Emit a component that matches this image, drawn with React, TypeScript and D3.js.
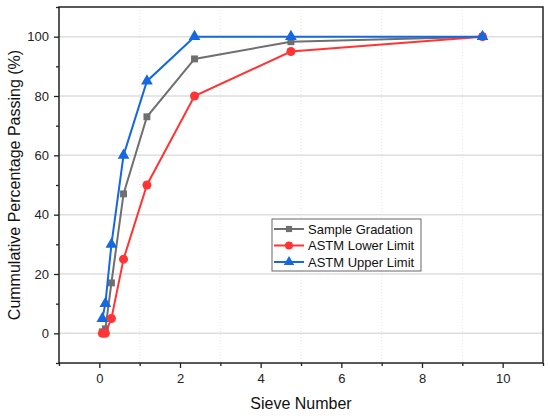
import React, { useEffect, useRef } from 'react';
import * as d3 from 'd3';

const sieves = [0.075, 0.15, 0.3, 0.6, 1.18, 2.36, 4.75, 9.5];
const sampleGradation = [0.5, 1.5, 17, 47, 73, 92.5, 98.3, 100];
const astmLower = [0, 0, 5, 25, 50, 80, 95, 100];
const astmUpper = [5, 10, 30, 60, 85, 100, 100, 100];
const xTicks = [0, 2, 4, 6, 8, 10];
const yTicks = [0, 20, 40, 60, 80, 100];

const series = [
  { name: 'Sample Gradation', values: sampleGradation, color: '#6f6f6f', symbol: d3.symbolSquare, size: 48 },
  { name: 'ASTM Lower Limit', values: astmLower, color: '#ff3535', symbol: d3.symbolCircle, size: 64 },
  { name: 'ASTM Upper Limit', values: astmUpper, color: '#1668e0', symbol: d3.symbolTriangle, size: 60 }
];

const App = () => {
  const svgRef = useRef(null);

  useEffect(() => {
    const W = 550;
    const H = 416;
    const m = { top: 7, right: 7, bottom: 53, left: 59 };
    const font = 'Liberation Sans, Arial, sans-serif';

    const svg = d3.select(svgRef.current).attr('width', W).attr('height', H);
    svg.selectAll('*').remove();

    const x = d3.scaleLinear().domain([-1, 11]).range([m.left, W - m.right]);
    const y = d3.scaleLinear().domain([-10, 110]).range([H - m.bottom, m.top]);

    const g = svg.append('g');

    // grid
    g.selectAll('.vgrid')
      .data(d3.range(1, 11, 2))
      .join('line')
      .attr('x1', (d) => x(d))
      .attr('x2', (d) => x(d))
      .attr('y1', y(110))
      .attr('y2', y(-10))
      .attr('stroke', '#e6e6e6')
      .attr('stroke-dasharray', '1,2')
      .attr('stroke-width', 1);

    g.selectAll('.hgrid')
      .data(yTicks)
      .join('line')
      .attr('x1', x(-1))
      .attr('x2', x(11))
      .attr('y1', (d) => y(d))
      .attr('y2', (d) => y(d))
      .attr('stroke', '#dedede')
      .attr('stroke-width', 1.5);

    // axes
    const xAxis = g
      .append('g')
      .attr('transform', `translate(0,${H - m.bottom})`)
      .call(d3.axisBottom(x).tickValues(xTicks).tickSize(5).tickPadding(6));
    g.append('g')
      .attr('transform', `translate(0,${H - m.bottom})`)
      .call(d3.axisBottom(x).tickValues(d3.range(-1, 12, 2)).tickSize(3).tickFormat(() => ''));
    const yAxis = g
      .append('g')
      .attr('transform', `translate(${m.left},0)`)
      .call(d3.axisLeft(y).tickValues(yTicks).tickSize(5).tickPadding(5));
    g.append('g')
      .attr('transform', `translate(${m.left},0)`)
      .call(d3.axisLeft(y).tickValues(d3.range(-10, 111, 20)).tickSize(3).tickFormat(() => ''));

    g.selectAll('.domain').remove();
    g.selectAll('.tick line').attr('stroke', '#222').attr('stroke-width', 1.3);
    [xAxis, yAxis].forEach((a) =>
      a.selectAll('text').attr('font-family', font).attr('font-size', 13).attr('fill', '#222')
    );

    // frame
    g.append('rect')
      .attr('x', x(-1))
      .attr('y', y(110))
      .attr('width', x(11) - x(-1))
      .attr('height', y(-10) - y(110))
      .attr('fill', 'none')
      .attr('stroke', '#222')
      .attr('stroke-width', 1.5);

    // series
    const line = d3
      .line<number>()
      .x((d, i) => x(sieves[i]))
      .y((d) => y(d));

    series.forEach((s) => {
      g.append('path')
        .datum(s.values)
        .attr('d', line)
        .attr('fill', 'none')
        .attr('stroke', s.color)
        .attr('stroke-width', 2);
      g.selectAll(null)
        .data(s.values)
        .join('path')
        .attr('d', d3.symbol().type(s.symbol).size(s.size))
        .attr('transform', (d, i) => `translate(${x(sieves[i])},${y(d)})`)
        .attr('fill', s.color);
    });

    // legend
    const lg = g.append('g').attr('transform', 'translate(272,219)');
    lg.append('rect')
      .attr('width', 149)
      .attr('height', 52)
      .attr('fill', 'white')
      .attr('stroke', '#666')
      .attr('stroke-width', 1);
    series.forEach((s, i) => {
      const ry = 10 + i * 16.5;
      lg.append('line')
        .attr('x1', 2)
        .attr('x2', 32)
        .attr('y1', ry)
        .attr('y2', ry)
        .attr('stroke', s.color)
        .attr('stroke-width', 2);
      lg.append('path')
        .attr('d', d3.symbol().type(s.symbol).size(s.size * 0.8))
        .attr('transform', `translate(17,${ry})`)
        .attr('fill', s.color);
      lg.append('text')
        .attr('x', 36)
        .attr('y', ry)
        .attr('dy', '0.35em')
        .attr('font-family', font)
        .attr('font-size', 13)
        .attr('fill', '#111')
        .text(s.name);
    });

    // axis titles
    svg
      .append('text')
      .attr('x', (x(-1) + x(11)) / 2)
      .attr('y', 409)
      .attr('text-anchor', 'middle')
      .attr('font-family', font)
      .attr('font-size', 16)
      .attr('fill', '#111')
      .text('Sieve Number');
    svg
      .append('text')
      .attr('transform', `translate(20,${(y(-10) + y(110)) / 2}) rotate(-90)`)
      .attr('text-anchor', 'middle')
      .attr('font-family', font)
      .attr('font-size', 16)
      .attr('fill', '#111')
      .text('Cummulative Percentage Passing (%)');
  }, []);

  return (
    <div style={{ position: 'absolute', left: 0, top: 0 }}>
      <svg ref={svgRef} style={{ display: 'block' }}></svg>
    </div>
  );
};

export default App;
